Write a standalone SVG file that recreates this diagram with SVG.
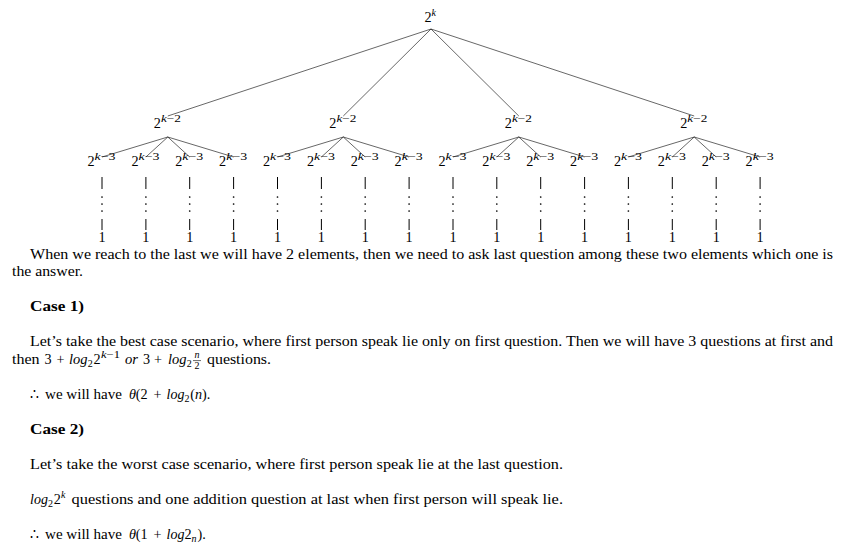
<svg xmlns="http://www.w3.org/2000/svg" width="847" height="557" viewBox="0 0 847 557">
<style>
text{font-family:"Liberation Serif","Times New Roman","DejaVu Serif",serif;font-size:14.2px;fill:#000}
.sup{font-size:10px}
.it{font-style:italic}
.b{font-weight:bold}
.c{text-anchor:middle}
.edge{stroke:#000;stroke-width:0.6;fill:none}
.bar{stroke:#000;stroke-width:1}
.dot{fill:#000}
</style>
<rect width="847" height="557" fill="#fff"/>
<g id="connectors">
<path class="edge" d="M431,29L167.8,116M431,29L343.3,116M431,29L518.8,116M431,29L694.2,116"/>
<path class="edge" d="M167.8,137L102,157M167.8,137L145.9,157M167.8,137L189.7,157M167.8,137L233.6,157"/>
<path class="edge" d="M343.3,137L277.5,157M343.3,137L321.4,157M343.3,137L365.2,157M343.3,137L409.1,157"/>
<path class="edge" d="M518.8,137L453,157M518.8,137L496.8,157M518.8,137L540.7,157M518.8,137L584.6,157"/>
<path class="edge" d="M694.2,137L628.4,157M694.2,137L672.3,157M694.2,137L716.2,157M694.2,137L760.1,157"/>
</g>
<g id="root"><text x="424.5" y="22">2</text><text class="sup it" x="431.6" y="16">k</text></g>
<g id="n1"><text x="153.8" y="128">2</text><text class="sup" x="160.9" y="122" textLength="20" lengthAdjust="spacingAndGlyphs"><tspan class="it">k</tspan>−2</text></g>
<g id="n2"><text x="329.3" y="128">2</text><text class="sup" x="336.4" y="122" textLength="20" lengthAdjust="spacingAndGlyphs"><tspan class="it">k</tspan>−2</text></g>
<g id="n3"><text x="504.8" y="128">2</text><text class="sup" x="511.9" y="122" textLength="20" lengthAdjust="spacingAndGlyphs"><tspan class="it">k</tspan>−2</text></g>
<g id="n4"><text x="680.2" y="128">2</text><text class="sup" x="687.3" y="122" textLength="20" lengthAdjust="spacingAndGlyphs"><tspan class="it">k</tspan>−2</text></g>
<g id="leaf1"><text x="87.5" y="166">2</text><text class="sup" x="94.6" y="160" textLength="21" lengthAdjust="spacingAndGlyphs"><tspan class="it">k</tspan>−3</text>
<line class="bar" x1="102" y1="177" x2="102" y2="189"/><circle class="dot" cx="102" cy="197" r="0.85"/><circle class="dot" cx="102" cy="204" r="0.85"/><circle class="dot" cx="102" cy="211" r="0.85"/><line class="bar" x1="102" y1="219" x2="102" y2="230"/><text class="c" x="102" y="242">1</text></g>
<g id="leaf2"><text x="131.4" y="166">2</text><text class="sup" x="138.5" y="160" textLength="21" lengthAdjust="spacingAndGlyphs"><tspan class="it">k</tspan>−3</text>
<line class="bar" x1="145.9" y1="177" x2="145.9" y2="189"/><circle class="dot" cx="145.9" cy="197" r="0.85"/><circle class="dot" cx="145.9" cy="204" r="0.85"/><circle class="dot" cx="145.9" cy="211" r="0.85"/><line class="bar" x1="145.9" y1="219" x2="145.9" y2="230"/><text class="c" x="145.9" y="242">1</text></g>
<g id="leaf3"><text x="175.2" y="166">2</text><text class="sup" x="182.3" y="160" textLength="21" lengthAdjust="spacingAndGlyphs"><tspan class="it">k</tspan>−3</text>
<line class="bar" x1="189.7" y1="177" x2="189.7" y2="189"/><circle class="dot" cx="189.7" cy="197" r="0.85"/><circle class="dot" cx="189.7" cy="204" r="0.85"/><circle class="dot" cx="189.7" cy="211" r="0.85"/><line class="bar" x1="189.7" y1="219" x2="189.7" y2="230"/><text class="c" x="189.7" y="242">1</text></g>
<g id="leaf4"><text x="219.1" y="166">2</text><text class="sup" x="226.2" y="160" textLength="21" lengthAdjust="spacingAndGlyphs"><tspan class="it">k</tspan>−3</text>
<line class="bar" x1="233.6" y1="177" x2="233.6" y2="189"/><circle class="dot" cx="233.6" cy="197" r="0.85"/><circle class="dot" cx="233.6" cy="204" r="0.85"/><circle class="dot" cx="233.6" cy="211" r="0.85"/><line class="bar" x1="233.6" y1="219" x2="233.6" y2="230"/><text class="c" x="233.6" y="242">1</text></g>
<g id="leaf5"><text x="263" y="166">2</text><text class="sup" x="270.1" y="160" textLength="21" lengthAdjust="spacingAndGlyphs"><tspan class="it">k</tspan>−3</text>
<line class="bar" x1="277.5" y1="177" x2="277.5" y2="189"/><circle class="dot" cx="277.5" cy="197" r="0.85"/><circle class="dot" cx="277.5" cy="204" r="0.85"/><circle class="dot" cx="277.5" cy="211" r="0.85"/><line class="bar" x1="277.5" y1="219" x2="277.5" y2="230"/><text class="c" x="277.5" y="242">1</text></g>
<g id="leaf6"><text x="306.9" y="166">2</text><text class="sup" x="314" y="160" textLength="21" lengthAdjust="spacingAndGlyphs"><tspan class="it">k</tspan>−3</text>
<line class="bar" x1="321.4" y1="177" x2="321.4" y2="189"/><circle class="dot" cx="321.4" cy="197" r="0.85"/><circle class="dot" cx="321.4" cy="204" r="0.85"/><circle class="dot" cx="321.4" cy="211" r="0.85"/><line class="bar" x1="321.4" y1="219" x2="321.4" y2="230"/><text class="c" x="321.4" y="242">1</text></g>
<g id="leaf7"><text x="350.7" y="166">2</text><text class="sup" x="357.8" y="160" textLength="21" lengthAdjust="spacingAndGlyphs"><tspan class="it">k</tspan>−3</text>
<line class="bar" x1="365.2" y1="177" x2="365.2" y2="189"/><circle class="dot" cx="365.2" cy="197" r="0.85"/><circle class="dot" cx="365.2" cy="204" r="0.85"/><circle class="dot" cx="365.2" cy="211" r="0.85"/><line class="bar" x1="365.2" y1="219" x2="365.2" y2="230"/><text class="c" x="365.2" y="242">1</text></g>
<g id="leaf8"><text x="394.6" y="166">2</text><text class="sup" x="401.7" y="160" textLength="21" lengthAdjust="spacingAndGlyphs"><tspan class="it">k</tspan>−3</text>
<line class="bar" x1="409.1" y1="177" x2="409.1" y2="189"/><circle class="dot" cx="409.1" cy="197" r="0.85"/><circle class="dot" cx="409.1" cy="204" r="0.85"/><circle class="dot" cx="409.1" cy="211" r="0.85"/><line class="bar" x1="409.1" y1="219" x2="409.1" y2="230"/><text class="c" x="409.1" y="242">1</text></g>
<g id="leaf9"><text x="438.5" y="166">2</text><text class="sup" x="445.6" y="160" textLength="21" lengthAdjust="spacingAndGlyphs"><tspan class="it">k</tspan>−3</text>
<line class="bar" x1="453" y1="177" x2="453" y2="189"/><circle class="dot" cx="453" cy="197" r="0.85"/><circle class="dot" cx="453" cy="204" r="0.85"/><circle class="dot" cx="453" cy="211" r="0.85"/><line class="bar" x1="453" y1="219" x2="453" y2="230"/><text class="c" x="453" y="242">1</text></g>
<g id="leaf10"><text x="482.3" y="166">2</text><text class="sup" x="489.4" y="160" textLength="21" lengthAdjust="spacingAndGlyphs"><tspan class="it">k</tspan>−3</text>
<line class="bar" x1="496.8" y1="177" x2="496.8" y2="189"/><circle class="dot" cx="496.8" cy="197" r="0.85"/><circle class="dot" cx="496.8" cy="204" r="0.85"/><circle class="dot" cx="496.8" cy="211" r="0.85"/><line class="bar" x1="496.8" y1="219" x2="496.8" y2="230"/><text class="c" x="496.8" y="242">1</text></g>
<g id="leaf11"><text x="526.2" y="166">2</text><text class="sup" x="533.3" y="160" textLength="21" lengthAdjust="spacingAndGlyphs"><tspan class="it">k</tspan>−3</text>
<line class="bar" x1="540.7" y1="177" x2="540.7" y2="189"/><circle class="dot" cx="540.7" cy="197" r="0.85"/><circle class="dot" cx="540.7" cy="204" r="0.85"/><circle class="dot" cx="540.7" cy="211" r="0.85"/><line class="bar" x1="540.7" y1="219" x2="540.7" y2="230"/><text class="c" x="540.7" y="242">1</text></g>
<g id="leaf12"><text x="570.1" y="166">2</text><text class="sup" x="577.2" y="160" textLength="21" lengthAdjust="spacingAndGlyphs"><tspan class="it">k</tspan>−3</text>
<line class="bar" x1="584.6" y1="177" x2="584.6" y2="189"/><circle class="dot" cx="584.6" cy="197" r="0.85"/><circle class="dot" cx="584.6" cy="204" r="0.85"/><circle class="dot" cx="584.6" cy="211" r="0.85"/><line class="bar" x1="584.6" y1="219" x2="584.6" y2="230"/><text class="c" x="584.6" y="242">1</text></g>
<g id="leaf13"><text x="613.9" y="166">2</text><text class="sup" x="621" y="160" textLength="21" lengthAdjust="spacingAndGlyphs"><tspan class="it">k</tspan>−3</text>
<line class="bar" x1="628.4" y1="177" x2="628.4" y2="189"/><circle class="dot" cx="628.4" cy="197" r="0.85"/><circle class="dot" cx="628.4" cy="204" r="0.85"/><circle class="dot" cx="628.4" cy="211" r="0.85"/><line class="bar" x1="628.4" y1="219" x2="628.4" y2="230"/><text class="c" x="628.4" y="242">1</text></g>
<g id="leaf14"><text x="657.8" y="166">2</text><text class="sup" x="664.9" y="160" textLength="21" lengthAdjust="spacingAndGlyphs"><tspan class="it">k</tspan>−3</text>
<line class="bar" x1="672.3" y1="177" x2="672.3" y2="189"/><circle class="dot" cx="672.3" cy="197" r="0.85"/><circle class="dot" cx="672.3" cy="204" r="0.85"/><circle class="dot" cx="672.3" cy="211" r="0.85"/><line class="bar" x1="672.3" y1="219" x2="672.3" y2="230"/><text class="c" x="672.3" y="242">1</text></g>
<g id="leaf15"><text x="701.7" y="166">2</text><text class="sup" x="708.8" y="160" textLength="21" lengthAdjust="spacingAndGlyphs"><tspan class="it">k</tspan>−3</text>
<line class="bar" x1="716.2" y1="177" x2="716.2" y2="189"/><circle class="dot" cx="716.2" cy="197" r="0.85"/><circle class="dot" cx="716.2" cy="204" r="0.85"/><circle class="dot" cx="716.2" cy="211" r="0.85"/><line class="bar" x1="716.2" y1="219" x2="716.2" y2="230"/><text class="c" x="716.2" y="242">1</text></g>
<g id="leaf16"><text x="745.6" y="166">2</text><text class="sup" x="752.7" y="160" textLength="21" lengthAdjust="spacingAndGlyphs"><tspan class="it">k</tspan>−3</text>
<line class="bar" x1="760.1" y1="177" x2="760.1" y2="189"/><circle class="dot" cx="760.1" cy="197" r="0.85"/><circle class="dot" cx="760.1" cy="204" r="0.85"/><circle class="dot" cx="760.1" cy="211" r="0.85"/><line class="bar" x1="760.1" y1="219" x2="760.1" y2="230"/><text class="c" x="760.1" y="242">1</text></g>
<g id="body">
<text x="30" y="259" textLength="803" lengthAdjust="spacingAndGlyphs">When we reach to the last we will have 2 elements, then we need to ask last question among these two elements which one is</text>
<text x="12" y="276" textLength="71" lengthAdjust="spacingAndGlyphs">the answer.</text>
<text class="b" x="30" y="311" textLength="54" lengthAdjust="spacingAndGlyphs">Case 1)</text>
<text x="30" y="346" textLength="803" lengthAdjust="spacingAndGlyphs">Let’s take the best case scenario, where first person speak lie only on first question. Then we will have 3 questions at first and</text>
<text x="12" y="364" textLength="27.6" lengthAdjust="spacingAndGlyphs">then</text>
<text x="44.5" y="364">3</text>
<text class="c" x="60.5" y="364">+</text>
<text class="it" x="69" y="364" textLength="18.5" lengthAdjust="spacingAndGlyphs">log</text>
<text class="sup" x="87.7" y="367">2</text>
<text x="93.5" y="364">2</text>
<text class="sup" x="101" y="358" textLength="19" lengthAdjust="spacingAndGlyphs"><tspan class="it">k</tspan>−1</text>
<text class="it" x="125" y="364" textLength="13" lengthAdjust="spacingAndGlyphs">or</text>
<text x="143" y="364">3</text>
<text class="c" x="158" y="364">+</text>
<text class="it" x="168" y="364" textLength="18.5" lengthAdjust="spacingAndGlyphs">log</text>
<text class="sup" x="186.7" y="367">2</text>
<text class="sup it c" x="197" y="358.4">n</text>
<line x1="193" y1="360.6" x2="201" y2="360.6" stroke="#000" stroke-width="0.6"/>
<text class="sup c" x="197" y="369">2</text>
<text x="207" y="364" textLength="64" lengthAdjust="spacingAndGlyphs">questions.</text>
<text x="30" y="399">∴</text>
<text x="45" y="399" textLength="77" lengthAdjust="spacingAndGlyphs">we will have</text>
<text class="it" x="129" y="399">θ</text>
<text x="135.7" y="399">(2</text>
<text class="c" x="157.5" y="399">+</text>
<text class="it" x="166.5" y="399" textLength="17.9" lengthAdjust="spacingAndGlyphs">log</text>
<text class="sup" x="184.4" y="402">2</text>
<text x="190.2" y="399">(<tspan class="it">n</tspan>).</text>
<text class="b" x="30" y="434" textLength="54" lengthAdjust="spacingAndGlyphs">Case 2)</text>
<text x="30" y="469" textLength="533" lengthAdjust="spacingAndGlyphs">Let’s take the worst case scenario, where first person speak lie at the last question.</text>
<text class="it" x="30" y="504" textLength="17.9" lengthAdjust="spacingAndGlyphs">log</text>
<text class="sup" x="47.9" y="507">2</text>
<text x="53.7" y="504">2</text>
<text class="sup it" x="61" y="498">k</text>
<text x="71.5" y="504" textLength="491.5" lengthAdjust="spacingAndGlyphs">questions and one addition question at last when first person will speak lie.</text>
<text x="30" y="539">∴</text>
<text x="45" y="539" textLength="77" lengthAdjust="spacingAndGlyphs">we will have</text>
<text class="it" x="129" y="539">θ</text>
<text x="135.7" y="539">(1</text>
<text class="c" x="157.5" y="539">+</text>
<text class="it" x="166.5" y="539" textLength="17.9" lengthAdjust="spacingAndGlyphs">log</text>
<text x="184.4" y="539">2</text>
<text class="sup it" x="191.5" y="542">n</text>
<text x="197.5" y="539">).</text>
</g>
</svg>
